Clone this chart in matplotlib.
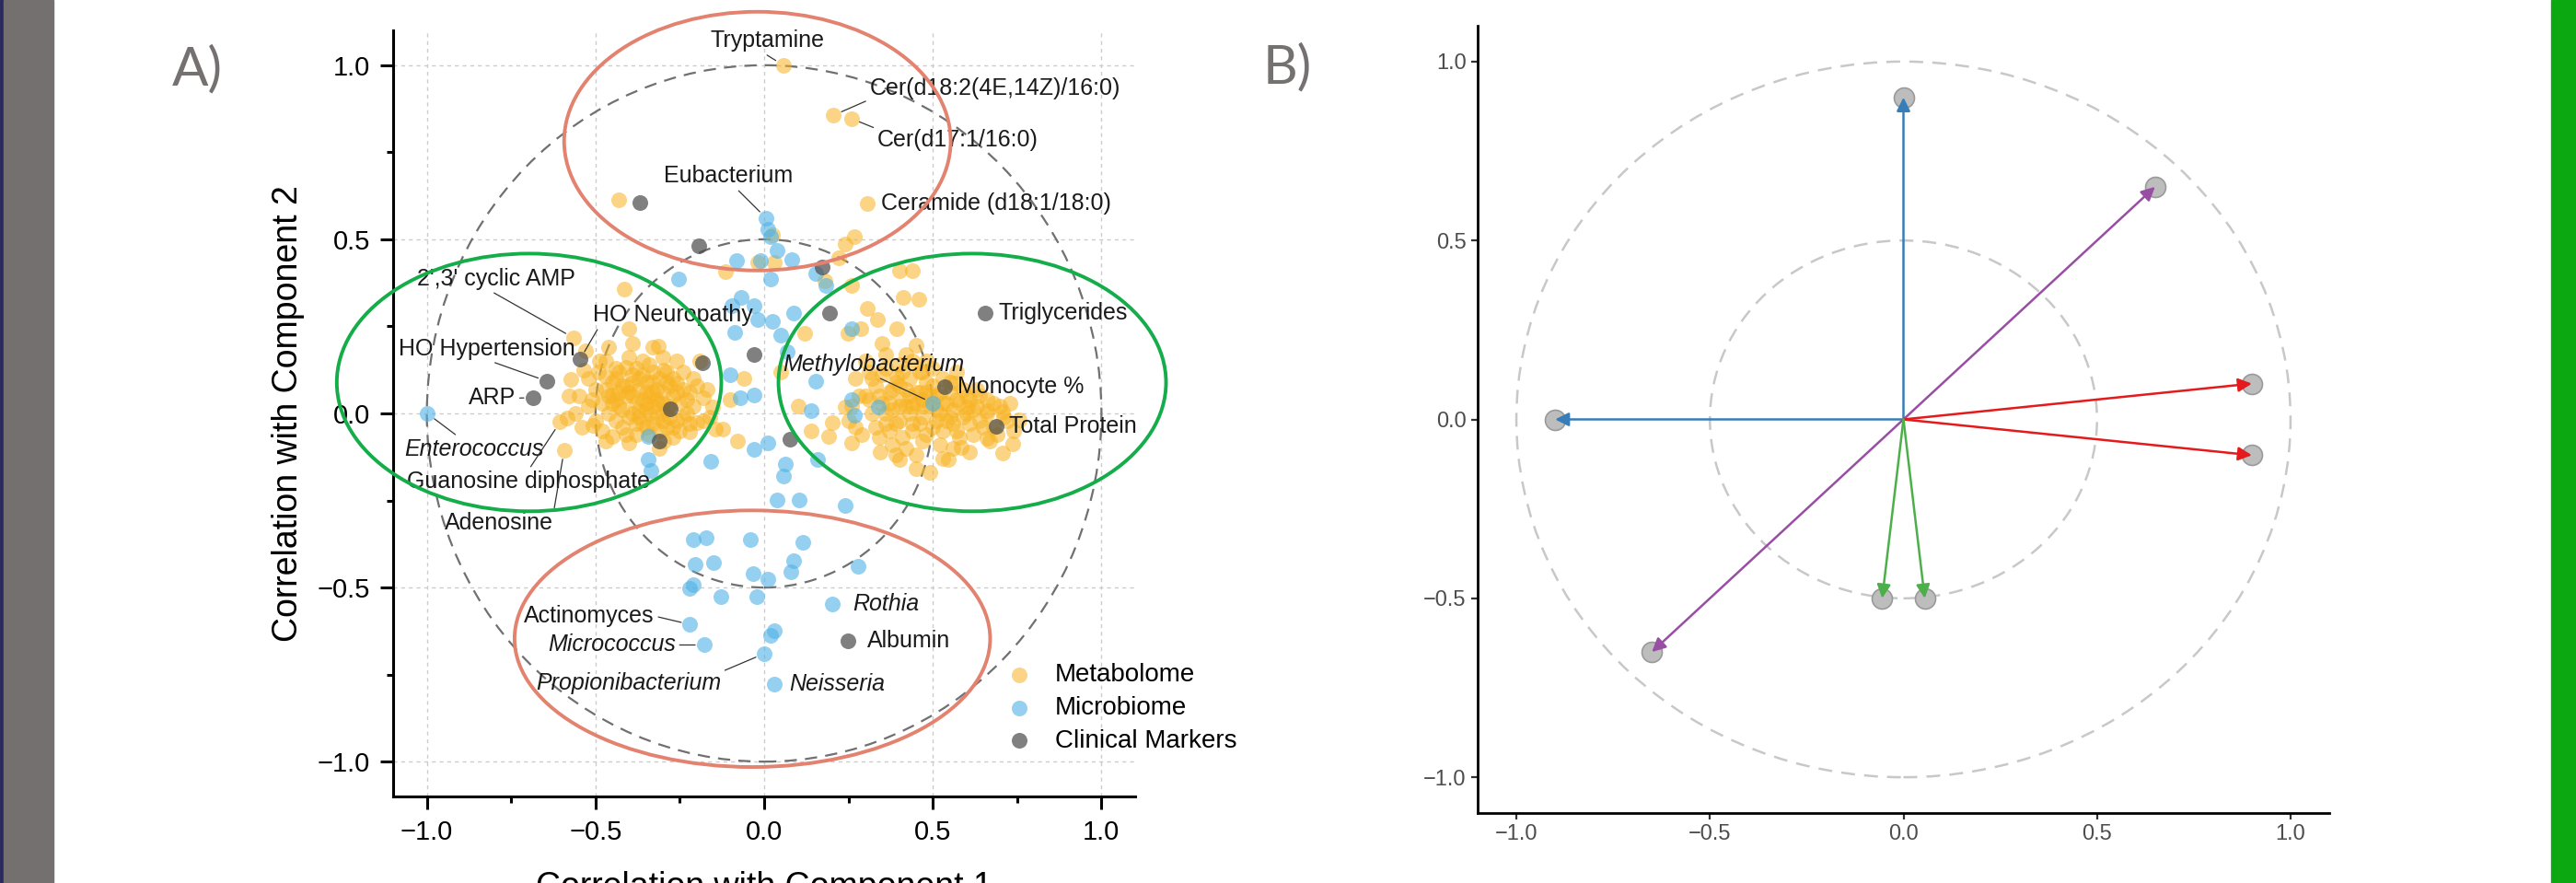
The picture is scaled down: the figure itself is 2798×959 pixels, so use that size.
import matplotlib.pyplot as plt
from matplotlib.patches import Ellipse, Circle, Rectangle
from matplotlib.ticker import MultipleLocator

plt.rcParams['font.family'] = ['Liberation Sans', 'DejaVu Sans']

# ---- panel A data (correlation with component 1 / 2) ----
met_x = [0.057, 0.205, 0.258, 0.306, -0.431, 0.268, 0.239, 0.22, 0.402, 0.44, 0.258, 0.412,
         0.459, 0.306, 0.029, -0.019, 0.025, -0.115, 0.18, 0.12, -0.06, -0.10, 0.10, 0.14,
         -0.08, 0.05,
         # left cluster
         -0.565, -0.402, -0.329, -0.315, -0.488, -0.536, -0.574, -0.469, -0.41, -0.392, -0.297,
         -0.258, -0.22, -0.18, -0.153, -0.2, -0.144, -0.45, -0.415, -0.584, -0.507, -0.45,
         -0.402, -0.297, -0.22, -0.124, -0.593, -0.605,
         -0.47, -0.44, -0.43, -0.41, -0.40, -0.39, -0.38, -0.37, -0.36, -0.35, -0.34, -0.33,
         -0.32, -0.31, -0.30, -0.29, -0.28, -0.27, -0.26, -0.25, -0.42, -0.46, -0.48, -0.44,
         -0.36, -0.33, -0.30, -0.24, -0.23, -0.22, -0.34, -0.38, -0.50, -0.52, -0.55, -0.53,
         -0.46, -0.39, -0.21, -0.19, -0.17, -0.16, -0.27, -0.31, -0.47, -0.35, -0.41, -0.29,
         -0.26, -0.36, -0.39, -0.33, -0.43, -0.37, -0.30, -0.45, -0.28, -0.34,
         -0.58, -0.56, -0.54, -0.52, -0.50, -0.49, -0.48, -0.47, -0.45, -0.44, -0.43, -0.42,
         -0.41, -0.40, -0.40, -0.38, -0.37, -0.37, -0.36, -0.35, -0.35, -0.34, -0.33, -0.32,
         -0.32, -0.31, -0.31, -0.30, -0.29, -0.29, -0.28, -0.27, -0.27, -0.26, -0.25, -0.24,
         -0.24, -0.23, -0.21, -0.20, -0.18, -0.38, -0.42, -0.46, -0.51, -0.33, -0.39, -0.35,
         -0.30, -0.44,
         # right cluster
         0.335, 0.392, 0.249, 0.287, 0.45, 0.421, 0.392, 0.469, 0.565, 0.603, 0.660, 0.708,
         0.756, 0.239, 0.201, 0.191, 0.258, 0.345, 0.402, 0.45, 0.546, 0.584, 0.66, 0.708,
         0.737, 0.49, 0.30, 0.27, 0.35,
         0.30, 0.32, 0.33, 0.35, 0.36, 0.37, 0.38, 0.39, 0.40, 0.41, 0.42, 0.43, 0.44, 0.45,
         0.46, 0.47, 0.48, 0.49, 0.50, 0.51, 0.52, 0.53, 0.54, 0.55, 0.56, 0.57, 0.58, 0.59,
         0.60, 0.61, 0.62, 0.64, 0.66, 0.68, 0.70, 0.72, 0.34, 0.38, 0.42, 0.47, 0.52, 0.56,
         0.31, 0.36, 0.41, 0.44, 0.50, 0.53, 0.47, 0.43, 0.40, 0.46, 0.51, 0.55, 0.48, 0.44,
         0.36, 0.27, 0.28, 0.25, 0.63, 0.67, 0.61,
         0.26, 0.29, 0.31, 0.32, 0.33, 0.34, 0.35, 0.37, 0.37, 0.38, 0.39, 0.40, 0.41, 0.42,
         0.43, 0.44, 0.45, 0.46, 0.47, 0.48, 0.49, 0.50, 0.51, 0.52, 0.53, 0.54, 0.55, 0.56,
         0.57, 0.58, 0.59, 0.60, 0.61, 0.62, 0.63, 0.64, 0.65, 0.66, 0.68, 0.69, 0.71, 0.73,
         0.74, 0.40, 0.48, 0.36, 0.45, 0.39, 0.53, 0.57]
met_y = [1.0, 0.856, 0.847, 0.603, 0.614, 0.508, 0.486, 0.446, 0.411, 0.41, 0.367, 0.332,
         0.327, 0.301, 0.433, 0.433, 0.513, 0.407, 0.38, 0.23, 0.10, 0.04, 0.02, -0.05,
         -0.08, 0.12,
         0.217, 0.243, 0.190, 0.192, 0.150, 0.124, 0.097, 0.106, 0.133, 0.088, 0.124,
         0.088, 0.062, 0.044, 0.018, -0.027, -0.044, 0.053, 0.358, -0.013, -0.035, -0.066,
         -0.084, -0.08, -0.053, -0.044, -0.106, -0.025,
         0.07, 0.10, 0.02, 0.05, -0.01, 0.11, 0.03, 0.07, -0.03, 0.01, 0.05, 0.09,
         -0.01, 0.03, 0.06, -0.04, 0.02, 0.05, -0.02, 0.03, -0.04, 0.00, 0.03, 0.13,
         0.15, 0.12, 0.16, 0.12, 0.00, -0.03, -0.06, -0.06, 0.07, 0.02, 0.05, 0.18,
         0.19, 0.20, 0.10, 0.15, 0.07, -0.01, -0.07, -0.10, -0.08, 0.09, 0.08, 0.09,
         0.15, 0.04, 0.00, 0.02, 0.06, -0.01, 0.00, 0.03, -0.01, 0.00,
         0.05, 0.00, -0.04, 0.10, -0.02, 0.12, -0.05, 0.15, 0.09, -0.02, 0.12, 0.01,
         -0.06, 0.16, 0.06, 0.13, 0.10, 0.01, 0.11, -0.04, 0.06, 0.14, -0.03, 0.07,
         0.04, 0.10, -0.05, 0.03, 0.12, 0.01, 0.08, -0.04, 0.10, 0.06, -0.05, 0.07,
         -0.01, 0.04, 0.02, 0.08, -0.02, -0.03, 0.08, 0.05, 0.04, 0.06, 0.05, 0.03,
         -0.02, 0.04,
         0.27, 0.243, 0.23, 0.243, 0.195, 0.168, 0.106, 0.119, 0.088, 0.018, 0.009, 0.004,
         -0.018, 0.018, -0.027, -0.066, -0.084, -0.11, -0.133, -0.159, -0.133, -0.097, -0.071, -0.115,
         -0.088, -0.17, 0.15, 0.10, 0.20,
         0.05, 0.00, 0.08, 0.03, -0.03, 0.06, 0.01, 0.09, -0.02, 0.04, 0.07, 0.00, -0.05, 0.03,
         0.06, -0.01, 0.09, 0.02, -0.04, 0.05, 0.00, 0.03, -0.02, 0.06, 0.01, -0.05, 0.03, -0.01,
         0.05, -0.03, 0.01, -0.02, 0.04, -0.04, 0.02, -0.02, -0.07, -0.09, -0.10, -0.08, -0.09, -0.10,
         0.12, 0.13, 0.12, 0.15, 0.13, 0.10, 0.04, 0.05, 0.02, -0.03, 0.01, -0.01, 0.06, 0.02,
         0.00, -0.04, 0.05, -0.02, 0.07, -0.08, -0.11,
         0.02, -0.06, 0.04, 0.10, -0.04, 0.05, 0.11, -0.05, 0.03, 0.07, -0.03, 0.08, -0.07, 0.02,
         0.10, -0.03, 0.06, 0.12, 0.02, -0.06, 0.05, 0.08, -0.02, 0.06, -0.05, 0.03, 0.09, -0.03,
         0.04, -0.07, 0.07, 0.00, 0.04, -0.06, 0.02, 0.05, -0.04, 0.00, 0.03, -0.06, -0.01, 0.03,
         -0.05, 0.14, 0.15, 0.17, -0.12, -0.12, -0.13, 0.12]

mic_x = [0.006, 0.010, 0.019, 0.038, -0.082, -0.01, 0.082, 0.153, 0.182, -0.255, 0.019, -0.067,
         -0.096, -0.029, 0.025, -0.019, 0.086, 0.048, -0.086, 0.067, -0.100, -0.029, -0.071, 0.140,
         0.258, 0.268, 0.339, 0.153, 0.50, -0.999, 0.258,
         -0.345, 0.010, -0.029, -0.345, -0.335, -0.157, 0.063, 0.057, 0.159, 0.038, 0.105, 0.239,
         -0.211, -0.172, -0.042, 0.115, -0.205, -0.149, 0.086, 0.080, -0.034, 0.010, 0.278, -0.211,
         -0.220, -0.128, -0.023, 0.029, 0.019, 0.201, -0.22, -0.178, 0.0, 0.029]
mic_y = [0.561, 0.530, 0.508, 0.469, 0.438, 0.438, 0.442, 0.402, 0.367, 0.385, 0.385, 0.332,
         0.309, 0.309, 0.265, 0.270, 0.287, 0.225, 0.234, 0.177, 0.111, 0.053, 0.044, 0.009,
         0.040, -0.004, 0.018, 0.093, 0.03, 0.0, 0.243,
         -0.066, -0.084, -0.102, -0.131, -0.164, -0.137, -0.146, -0.181, -0.131, -0.248, -0.249, -0.265,
         -0.363, -0.358, -0.361, -0.371, -0.433, -0.429, -0.424, -0.455, -0.460, -0.477, -0.438, -0.491,
         -0.502, -0.526, -0.526, -0.623, -0.637, -0.548, -0.606, -0.665, -0.69, -0.778]

cli_x = [-0.546, -0.645, -0.686, 0.536, 0.689, 0.655, 0.249, -0.368, -0.195, 0.172, 0.195,
         -0.029, -0.182, -0.278, -0.312, 0.077]
cli_y = [0.155, 0.093, 0.045, 0.078, -0.037, 0.287, -0.653, 0.606, 0.482, 0.42, 0.287,
         0.168, 0.146, 0.013, -0.080, -0.075]

# labelled variables: text, point x, point y, italic
lab_text = ["Tryptamine", "Cer(d18:2(4E,14Z)/16:0)", "Cer(d17:1/16:0)", "Ceramide (d18:1/18:0)",
            "Eubacterium", "2',3' cyclic AMP", "HO Neuropathy", "HO Hypertension", "ARP",
            "Enterococcus", "Guanosine diphosphate", "Adenosine", "Methylobacterium",
            "Monocyte %", "Total Protein", "Triglycerides", "Rothia", "Albumin",
            "Actinomyces", "Micrococcus", "Propionibacterium", "Neisseria"]
lab_px = [0.057, 0.205, 0.258, 0.306, 0.006, -0.565, -0.546, -0.645, -0.686, -0.999, -0.605,
          -0.593, 0.50, 0.536, 0.689, 0.655, 0.201, 0.249, -0.22, -0.178, 0.0, 0.029]
lab_py = [1.0, 0.856, 0.847, 0.603, 0.561, 0.217, 0.155, 0.093, 0.045, 0.0, -0.025,
          -0.106, 0.03, 0.078, -0.037, 0.287, -0.548, -0.653, -0.606, -0.665, -0.69, -0.778]
lab_italic = [False, False, False, False, False, False, False, False, False, True, False,
              False, True, False, False, False, True, False, False, True, True, True]

# label placement (layout)
lab_tx = [0.01, 0.312, 0.335, 0.348, -0.105, -0.794, -0.27, -0.823, -0.806, -0.861, -0.699,
          -0.785, 0.325, 0.574, 0.727, 0.695, 0.264, 0.306, -0.325, -0.262, -0.402, 0.073]
lab_ty = [1.07, 0.933, 0.785, 0.603, 0.681, 0.387, 0.283, 0.186, 0.044, -0.102, -0.195,
          -0.314, 0.141, 0.078, -0.037, 0.287, -0.548, -0.653, -0.582, -0.665, -0.774, -0.778]
lab_ha = ['center', 'left', 'left', 'left', 'center', 'center', 'center', 'center', 'center',
          'center', 'center', 'center', 'center', 'left', 'left', 'left', 'left', 'left',
          'right', 'right', 'center', 'left']
lab_rel = [(0.45, 0), (0, 0), (0, 1), None, (0.55, 0), (0.45, 0), (0.04, 0), (0.5, 0), (1, 0.5),
           (0.4, 1), (0.5, 1), (1, 1), (0.5, 0), None, None, None, None, None,
           (1, 0.5), (1, 0.5), (1, 1), None]

# highlight ellipses: centre x, centre y, width, height, colour
ell_cx = [-0.02, -0.035, -0.697, 0.617]
ell_cy = [0.782, -0.647, 0.089, 0.089]
ell_w = [1.146, 1.41, 1.14, 1.149]
ell_h = [0.743, 0.737, 0.74, 0.74]
ell_col = ['#e2826f', '#e2826f', '#14ad4a', '#14ad4a']

# ---- panel B data (loading vectors) ----
vec_x = [0.0, -0.9, 0.65, -0.65, 0.9, 0.9, -0.055, 0.055]
vec_y = [0.9, 0.0, 0.65, -0.65, 0.1, -0.1, -0.5, -0.5]
vec_col = ['#377eb8', '#377eb8', '#984ea3', '#984ea3', '#e41a1c', '#e41a1c', '#4daf4a', '#4daf4a']

W, H = 2798, 959
fig = plt.figure(figsize=(W / 100, H / 100), dpi=100)


def px_box(l, t, r, b):
    return [l / W, 1 - b / H, (r - l) / W, (b - t) / H]


# side strips
fig.patches.append(Rectangle((0, 0), 4 / W, 1, transform=fig.transFigure, color='#2b2a5e'))
fig.patches.append(Rectangle((4 / W, 0), 54 / W, 1, transform=fig.transFigure, color='#747070'))
fig.patches.append(Rectangle((2771 / W, 0), 27 / W, 1, transform=fig.transFigure, color='#0ca812'))

# ================= panel A =================
axA = fig.add_axes(px_box(427, 33, 1233, 865))
axA.set_xlim(-1.1, 1.1)
axA.set_ylim(-1.1, 1.1)
for a in (axA.xaxis, axA.yaxis):
    a.set_major_locator(MultipleLocator(0.5))
    a.set_minor_locator(MultipleLocator(0.25))
axA.grid(True, which='major', color='#cccccc', linestyle=(0, (3, 3)), lw=1.0, zorder=0)
axA.set_axisbelow(True)
for s in ('top', 'right'):
    axA.spines[s].set_visible(False)
for s in ('left', 'bottom'):
    axA.spines[s].set_linewidth(2.2)
axA.tick_params(which='major', length=10, width=2.2, labelsize=21, pad=8)
axA.tick_params(which='minor', length=5, width=2.2)

for r in (1.0, 0.5):
    axA.add_patch(Circle((0, 0), r, fill=False, ec='#707070', lw=1.6,
                         ls=(0, (6, 4)), zorder=1))

axA.scatter(met_x, met_y, s=150, color='#f8b322', alpha=0.55, lw=0, zorder=2, label='Metabolome')
axA.scatter(mic_x, mic_y, s=150, color='#4fb2e6', alpha=0.6, lw=0, zorder=3, label='Microbiome')
axA.scatter(cli_x, cli_y, s=150, color='#4a4a4a', alpha=0.7, lw=0, zorder=4, label='Clinical Markers')

for i, t in enumerate(lab_text):
    style = 'italic' if lab_italic[i] else 'normal'
    if lab_rel[i] is None:
        axA.text(lab_tx[i], lab_ty[i], t, ha=lab_ha[i], va='center', fontsize=18,
                 style=style, color='#1a1a1a', zorder=6)
    else:
        axA.annotate(t, xy=(lab_px[i], lab_py[i]), xytext=(lab_tx[i], lab_ty[i]),
                     ha=lab_ha[i], va='center', fontsize=18, style=style, color='#1a1a1a',
                     zorder=6,
                     arrowprops=dict(arrowstyle='-', color='#333333', lw=0.9,
                                     shrinkA=1, shrinkB=7, relpos=lab_rel[i]))

for i in range(len(ell_cx)):
    axA.add_patch(Ellipse((ell_cx[i], ell_cy[i]), ell_w[i], ell_h[i], fill=False,
                          ec=ell_col[i], lw=2.8, clip_on=False, zorder=7))

axA.set_xlabel('Correlation with Component 1', fontsize=27, labelpad=20)
axA.set_ylabel('Correlation with Component 2', fontsize=27, labelpad=10)

axA.legend(loc='upper left', bbox_to_anchor=(0.826, 0.174), frameon=False, fontsize=20,
           handlelength=1.0, handletextpad=0.9, borderpad=0, borderaxespad=0,
           labelspacing=0.35, scatterpoints=1)

fig.text(187 / W, 1 - 92 / H, 'A)', fontsize=42, color='#767171', family='Lato', va='baseline')

# ================= panel B =================
axB = fig.add_axes(px_box(1605, 28, 2530, 883))
axB.set_xlim(-1.1, 1.1)
axB.set_ylim(-1.1, 1.1)
axB.xaxis.set_major_locator(MultipleLocator(0.5))
axB.yaxis.set_major_locator(MultipleLocator(0.5))
for s in ('top', 'right'):
    axB.spines[s].set_visible(False)
for s in ('left', 'bottom'):
    axB.spines[s].set_linewidth(2.0)
axB.tick_params(length=5, width=1.6, color='#333333', labelsize=17, labelcolor='#4d4d4d', pad=4)

for r in (1.0, 0.5):
    axB.add_patch(Circle((0, 0), r, fill=False, ec='#c8c8c8', lw=1.8, ls=(0, (6, 4))))

axB.scatter(vec_x, vec_y, s=250, color='#bdbdbd', edgecolor='#9a9a9a', lw=1.2, zorder=2)
for i in range(len(vec_x)):
    axB.annotate('', xy=(vec_x[i], vec_y[i]), xytext=(0, 0),
                 arrowprops=dict(arrowstyle='-|>', color=vec_col[i], lw=1.8,
                                 mutation_scale=22, shrinkA=0, shrinkB=0), zorder=3)

fig.text(1372 / W, 1 - 90 / H, 'B)', fontsize=42, color='#767171', family='Lato', va='baseline')

fig.savefig('out.png', dpi=100)
